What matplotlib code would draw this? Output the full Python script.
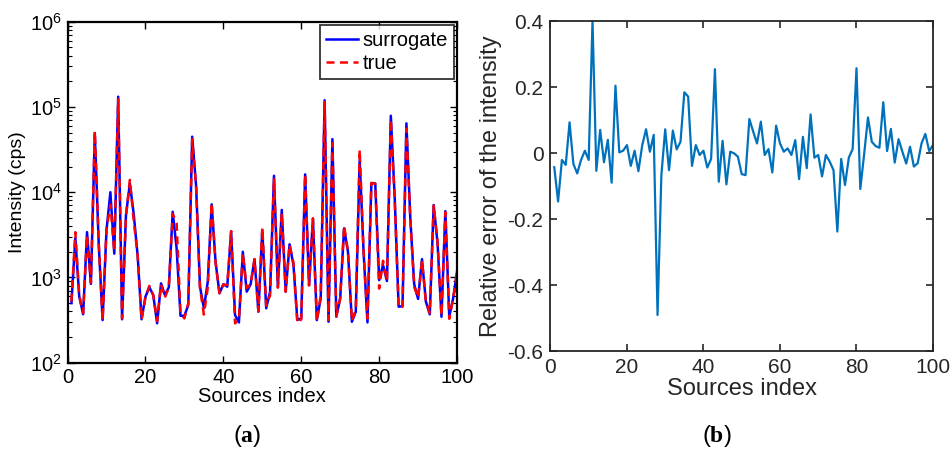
import numpy as np
import matplotlib
matplotlib.use("Agg")
import matplotlib.pyplot as plt
from matplotlib.ticker import LogLocator, FixedLocator, NullFormatter

plt.rcParams['font.family'] = ['Liberation Sans', 'DejaVu Sans']
plt.rcParams['mathtext.fontset'] = 'custom'
plt.rcParams['mathtext.rm'] = 'Liberation Sans'
plt.rcParams['mathtext.bf'] = 'Liberation Serif:bold'

# ---------------- data ----------------
source_index = list(range(1, 101))

surrogate = [500, 2900, 600, 370, 3400, 840, 49000, 2500, 316, 3600,
             10000, 1900, 132000, 323, 5400, 12700, 5500, 1800, 323, 594,
             766, 622, 290, 853, 622, 766, 5900, 2200, 355, 355,
             475, 44800, 12000, 780, 435, 890, 7200, 1530, 652, 832,
             780, 3440, 362, 297, 2000, 681, 832, 1640, 396, 3600,
             435, 681, 15600, 780, 6200, 680, 2450, 1400, 316, 331,
             16200, 815, 4900, 316, 569, 120000, 302, 42000, 346, 569,
             3770, 2000, 302, 396, 24000, 2000, 297, 12700, 12700, 930,
             1400, 908, 78900, 8500, 454, 460, 64300, 4940, 830, 560,
             1640, 520, 369, 7080, 2500, 346, 6000, 346, 570, 1170]

true_vals = [522, 3400, 613, 384, 3110, 869, 52200, 2550, 314, 3680,
             7140, 2010, 123400, 332, 5190, 13950, 4570, 1800, 321, 580,
             797, 618, 307, 833, 580, 763, 5590, 4320, 380, 331,
             501, 41950, 11870, 754, 367, 760, 7490, 1490, 656, 826,
             816, 3500, 289, 325, 1930, 752, 829, 1640, 400, 3850,
             466, 617, 14650, 758, 5660, 684, 2420, 1490, 292, 322,
             16130, 804, 4930, 304, 618, 114400, 317, 37600, 351, 572,
             4060, 2010, 310, 418, 31500, 2040, 329, 12880, 12550, 740,
             1570, 912, 71200, 8220, 445, 453, 55720, 4910, 774, 577,
             1574, 518, 381, 6950, 2610, 357, 5830, 327, 567, 1143]

rel_error = [-0.043, -0.147, -0.021, -0.036, 0.093, -0.033, -0.062, -0.021, 0.007, -0.021,
             0.40, -0.054, 0.07, -0.028, 0.04, -0.09, 0.204, 0.002, 0.007, 0.024,
             -0.039, 0.007, -0.055, 0.024, 0.072, 0.004, 0.055, -0.491, -0.067, 0.072,
             -0.052, 0.068, 0.011, 0.034, 0.184, 0.171, -0.039, 0.024, -0.006, 0.007,
             -0.044, -0.018, 0.254, -0.087, 0.037, -0.095, 0.004, -0.001, -0.011, -0.064,
             -0.067, 0.103, 0.065, 0.029, 0.095, -0.006, 0.012, -0.059, 0.083, 0.029,
             0.004, 0.014, -0.006, 0.039, -0.079, 0.049, -0.046, 0.117, -0.014, -0.006,
             -0.071, -0.006, -0.026, -0.052, -0.238, -0.018, -0.097, -0.014, 0.012, 0.257,
             -0.109, -0.004, 0.108, 0.034, 0.021, 0.016, 0.154, 0.006, 0.073, -0.029,
             0.042, 0.004, -0.032, 0.019, -0.041, -0.031, 0.029, 0.058, 0.006, 0.024]

x_ticks = [0, 20, 40, 60, 80, 100]
err_ticks = [-0.6, -0.4, -0.2, 0, 0.2, 0.4]

# ---------------- figure ----------------
fig = plt.figure(figsize=(9.5, 4.51), dpi=100)

axL = fig.add_axes([0.0711, 0.1958, 0.41, 0.756])
axL.plot(source_index, surrogate, color='#0000FF', lw=1.8, label='surrogate')
axL.plot(source_index, true_vals, color='#FF0000', lw=1.8, ls=(0, (3.2, 2.2)), label='true')
axL.set_yscale('log')
axL.set_ylim(1e2, 1e6)
axL.set_xlim(0, 100)
axL.set_xticks(x_ticks)
axL.yaxis.set_major_locator(LogLocator(base=10, numticks=10))
axL.yaxis.set_minor_locator(LogLocator(base=10, subs=np.arange(2, 10), numticks=10))
axL.yaxis.set_minor_formatter(NullFormatter())
axL.set_xlabel('Sources index', fontsize=14.5, labelpad=0)
axL.set_ylabel('Intensity (cps)', fontsize=14, labelpad=3)
axL.tick_params(which='both', direction='in', top=True, right=True, labelsize=14.5, colors='black', pad=4)
axL.tick_params(which='major', length=5, width=1)
axL.tick_params(which='minor', length=3, width=0.8)
for s in axL.spines.values():
    s.set_linewidth(1.6)
    s.set_color('black')
leg = axL.legend(loc='upper right', fontsize=14.5, frameon=True, fancybox=False,
                 edgecolor='black', handlelength=1.55, handletextpad=0.25,
                 borderpad=0.3, labelspacing=0.2, borderaxespad=0.15)
leg.get_frame().set_linewidth(1.3)

axR = fig.add_axes([0.5794, 0.2217, 0.4027, 0.7317])
axR.plot(source_index, rel_error, color='#0072BD', lw=1.6)
axR.set_xlim(0, 100)
axR.set_ylim(-0.6, 0.4)
axR.set_xticks(x_ticks)
axR.set_yticks(err_ticks)
axR.set_yticklabels(['-0.6', '-0.4', '-0.2', '0', '0.2', '0.4'])
axR.set_xlabel('Sources index', fontsize=17, color='#262626', labelpad=1)
axR.set_ylabel('Relative error of the intensity', fontsize=17, color='#262626', labelpad=4)
axR.tick_params(which='both', direction='in', top=True, right=True, labelsize=15,
                colors='#262626', length=5, width=1.2, pad=5)
for s in axR.spines.values():
    s.set_linewidth(1.3)
    s.set_color('#262626')

fig.text(0.26, 0.033, r'$\mathrm{(}\mathbf{a}\mathrm{)}$', fontsize=17, ha='center', va='center',
         family='Liberation Serif')
fig.text(0.754, 0.033, r'$\mathrm{(}\mathbf{b}\mathrm{)}$', fontsize=17, ha='center', va='center',
         family='Liberation Serif')

fig.savefig('out.png', dpi=100)
